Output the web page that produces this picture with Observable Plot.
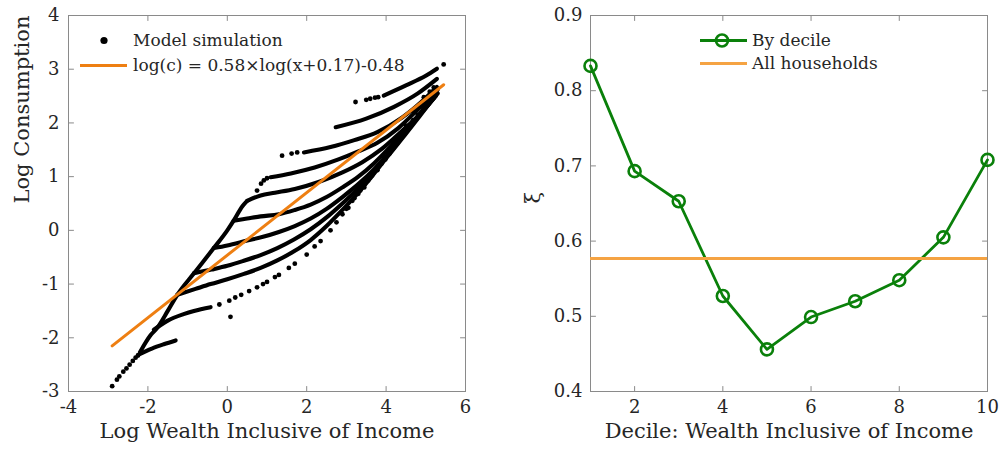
<!DOCTYPE html>
<html><head><meta charset="utf-8">
<script src="https://cdn.jsdelivr.net/npm/d3@7"></script>
<script src="https://cdn.jsdelivr.net/npm/@observablehq/plot@0.6"></script>
<style>
body{margin:0;background:#fff;}
#wrap{position:relative;width:1000px;height:450px;display:flex;overflow:hidden;}
#left,#right{position:relative;width:500px;height:450px;}
.legend{position:absolute;font-family:"DejaVu Serif",serif;color:#262626;font-size:17px;line-height:1;}
.legend .row{display:flex;align-items:center;white-space:nowrap;}
.legend svg{flex:none;}
</style></head><body>
<div id="wrap">
  <div id="left"></div>
  <div id="right"></div>
  <div class="legend" style="left:78px;top:27.5px;">
    <div class="row" style="height:25px"><svg width="55" height="25"><circle cx="26" cy="12.5" r="3.6" fill="#000"/></svg><span>Model simulation</span></div>
    <div class="row" style="height:25px"><svg width="55" height="25"><line x1="2" x2="49" y1="12.5" y2="12.5" stroke="#EE7F12" stroke-width="3"/></svg><span>log(c) = 0.58×log(x+0.17)-0.48</span></div>
  </div>
  <div class="legend" style="left:698px;top:28.5px;">
    <div class="row" style="height:23px"><svg width="54" height="23"><line x1="2" x2="49" y1="11.5" y2="11.5" stroke="#0A800A" stroke-width="2.8"/><circle cx="24" cy="11.5" r="6" fill="none" stroke="#0A800A" stroke-width="2.6"/></svg><span>By decile</span></div>
    <div class="row" style="height:23px"><svg width="54" height="23"><line x1="2" x2="49" y1="11.5" y2="11.5" stroke="#F5A343" stroke-width="3"/></svg><span>All households</span></div>
  </div>
</div>
<script>
// ---------- Left panel data ----------
const leftXTicks = [-4, -2, 0, 2, 4, 6];
const leftYTicks = [-3, -2, -1, 0, 1, 2, 3, 4];
// steep shared part of the policy curves
const envelope = [[-2.2,-2.27],[-1.93,-1.95],[-1.77,-1.82],[-1.5,-1.5],[-1.26,-1.2],[-0.84,-0.8],[-0.34,-0.33],[0.0,0.0],[0.16,0.18],[0.38,0.45],[0.5,0.55]];
const lowTail = [[-2.9,-2.9],[-2.78,-2.78],[-2.72,-2.72],[-2.62,-2.63],[-2.54,-2.57],[-2.46,-2.5],[-2.38,-2.43],[-2.31,-2.37],[-2.25,-2.33]];
const branch1 = [[-2.25,-2.32],[-1.9,-2.2],[-1.6,-2.12],[-1.3,-2.05]];
const branch2 = [[-1.85,-1.85],[-1.5,-1.68],[-1.1,-1.56],[-0.84,-1.5],[-0.42,-1.43]];
const branch2Dots = [[-0.2,-1.38],[0.05,-1.31],[0.2,-1.25],[0.35,-1.2],[0.55,-1.13],[0.75,-1.06],[0.9,-1.0],[1.0,-0.96],[1.2,-0.87],[1.3,-0.83],[1.55,-0.7],[1.7,-0.62],[2.0,-0.45],[2.2,-0.3],[2.35,-0.2],[2.6,0.0],[2.75,0.15],[2.9,0.3],[3.05,0.42],[3.2,0.6],[3.35,0.74],[3.45,0.85],[3.6,0.98],[3.7,1.1],[3.8,1.2],[3.94,1.36],[4.05,1.45],[4.2,1.6],[4.36,1.8],[4.5,1.95],[4.7,2.2],[4.85,2.35],[4.95,2.48],[5.1,2.58],[5.2,2.66]];
const strayDots = [[0.08,-1.61],[3.0,0.4],[3.15,0.55],[3.3,0.68],[3.45,0.8],[3.55,0.93],[3.65,1.02],[3.78,1.12],[3.88,1.24],[3.98,1.32],[4.08,1.42],[4.18,1.53],[4.28,1.62],[4.38,1.72],[4.48,1.83],[4.58,1.93],[4.68,2.05],[4.8,2.15],[4.92,2.3],[5.02,2.4]];
const branch3 = [[-1.26,-1.2],[-0.8,-1.09],[-0.42,-1.0],[0.0,-0.91],[0.42,-0.81],[0.84,-0.7],[1.26,-0.56],[1.68,-0.39],[2.1,-0.18],[2.5,0.08],[2.9,0.38],[3.3,0.7],[3.7,1.06],[4.1,1.44],[4.5,1.84],[4.85,2.17],[5.1,2.38]];
const branch4 = [[-0.84,-0.8],[-0.4,-0.73],[0.0,-0.66],[0.4,-0.57],[0.84,-0.46],[1.26,-0.33],[1.68,-0.17],[2.1,0.02],[2.5,0.24],[2.9,0.5],[3.3,0.78],[3.7,1.1],[4.1,1.43],[4.5,1.8],[4.85,2.13],[5.15,2.42]];
const branch5 = [[-0.34,-0.33],[0.0,-0.28],[0.5,-0.19],[0.9,-0.12],[1.3,-0.03],[1.7,0.08],[2.1,0.22],[2.5,0.4],[2.9,0.62],[3.3,0.86],[3.7,1.14],[4.1,1.46],[4.5,1.82],[4.85,2.16],[5.2,2.46]];
const branch6 = [[0.16,0.18],[0.5,0.22],[0.84,0.26],[1.3,0.3],[1.7,0.38],[2.1,0.48],[2.5,0.62],[2.9,0.8],[3.3,1.0],[3.7,1.25],[4.1,1.55],[4.5,1.87],[4.9,2.2],[5.25,2.5]];
const branch7 = [[0.5,0.55],[0.84,0.65],[1.2,0.7],[1.7,0.77],[2.3,0.9],[2.9,1.08],[3.4,1.27],[3.9,1.52],[4.4,1.85],[4.9,2.2],[5.3,2.55]];
const curveA = [[1.09,0.99],[1.6,1.06],[2.2,1.17],[2.8,1.32],[3.3,1.47],[3.78,1.63],[4.3,1.9],[4.8,2.25],[5.3,2.62]];
const curveADots = [[0.75,0.74],[0.85,0.87],[0.92,0.93],[1.0,0.97]];
const curveB = [[1.93,1.45],[2.6,1.55],[3.2,1.68],[3.78,1.83],[4.4,2.1],[4.9,2.4],[5.28,2.67]];
const curveBDots = [[1.38,1.39],[1.62,1.43],[1.76,1.45]];
const curveC = [[2.73,1.92],[3.5,2.08],[4.2,2.3],[4.8,2.55],[5.28,2.82]];
const curveD = [[3.94,2.51],[4.5,2.7],[5.0,2.88],[5.28,3.01]];
const curveDDots = [[3.23,2.39],[3.5,2.43],[3.6,2.45],[3.72,2.47],[3.8,2.48],[5.45,3.09]];
const fitX = [-2.9, 5.45];
const fitY = [-2.15, 2.71];

// ---------- Right panel data ----------
const decile = [1, 2, 3, 4, 5, 6, 7, 8, 9, 10];
const xi = [0.833, 0.693, 0.653, 0.527, 0.456, 0.499, 0.520, 0.548, 0.605, 0.708];
const allHouseholds = 0.577;
const rightXTicks = [2, 4, 6, 8, 10];
const rightYTicks = [0.4, 0.5, 0.6, 0.7, 0.8, 0.9];

const FONT = "DejaVu Serif";
const TEXT = "#262626";
const FRAME = "#8a8a8a";
const TICKFS = 18, LABELFS = 21;
const tickShape = {draw(ctx, l) { ctx.moveTo(0, 0); ctx.lineTo(0, -l); }};
function inwardTicks(xt, yt) {
  const o = {length: 5, anchor: "start", shape: tickShape, stroke: FRAME, strokeWidth: 1};
  return [
    Plot.vector(xt, {...o, x: d => d, frameAnchor: "bottom", rotate: 0}),
    Plot.vector(xt, {...o, x: d => d, frameAnchor: "top", rotate: 180}),
    Plot.vector(yt, {...o, y: d => d, frameAnchor: "left", rotate: 90}),
    Plot.vector(yt, {...o, y: d => d, frameAnchor: "right", rotate: -90})
  ];
}
function tickLabels(xt, yt, fmtX, fmtY, padY) {
  const t = {fontSize: TICKFS, fontFamily: FONT, fill: TEXT};
  return [
    Plot.text(xt, {...t, x: d => d, text: fmtX, frameAnchor: "bottom", lineAnchor: "top", dy: 9}),
    Plot.text(yt, {...t, y: d => d, text: fmtY, frameAnchor: "left", textAnchor: "end", dx: -padY})
  ];
}
const P = {x: d => d[0], y: d => d[1]};
const denseLine = (data) => Plot.line(data, {...P, stroke: "#000", strokeWidth: 4.1, curve: "monotone-x", strokeLinecap: "round"});
const sparse = (data) => Plot.dot(data, {...P, r: 2.4, fill: "#000"});

const left = Plot.plot({
  width: 500, height: 450,
  marginLeft: 68, marginRight: 35, marginTop: 15, marginBottom: 59,
  style: {fontFamily: FONT, fontSize: TICKFS + "px", color: TEXT, background: "transparent", overflow: "visible"},
  x: {domain: [-4, 6], axis: null},
  y: {domain: [-3, 4], axis: null},
  marks: [
    Plot.frame({stroke: FRAME}),
    ...inwardTicks(leftXTicks, leftYTicks),
    ...tickLabels(leftXTicks, leftYTicks, d => String(d), d => String(d), 9),
    Plot.text(["Log Wealth Inclusive of Income"], {text: d => d, frameAnchor: "bottom", dy: 46, fontSize: LABELFS, fontFamily: FONT, fill: TEXT}),
    Plot.text(["Log Consumption"], {text: d => d, frameAnchor: "left", rotate: -90, dx: -46, fontSize: LABELFS, fontFamily: FONT, fill: TEXT}),
    sparse(lowTail),
    denseLine(branch1),
    denseLine(envelope),
    denseLine(branch2),
    sparse(branch2Dots),
    sparse(strayDots),
    denseLine(branch3),
    denseLine(branch4),
    denseLine(branch5),
    denseLine(branch6),
    denseLine(branch7),
    denseLine(curveA), sparse(curveADots),
    denseLine(curveB), sparse(curveBDots),
    denseLine(curveC),
    denseLine(curveD), sparse(curveDDots),
    Plot.line(fitX.map((x, i) => [x, fitY[i]]), {...P, stroke: "#EE7F12", strokeWidth: 3})
  ]
});
document.getElementById("left").appendChild(left);

const GREEN = "#0A800A";
const deciles = decile.map((d, i) => ({d, v: xi[i]}));
const right = Plot.plot({
  width: 500, height: 450,
  marginLeft: 90, marginRight: 13, marginTop: 15, marginBottom: 59,
  style: {fontFamily: FONT, fontSize: TICKFS + "px", color: TEXT, background: "transparent", overflow: "visible"},
  x: {domain: [1, 10], axis: null},
  y: {domain: [0.4, 0.9], axis: null},
  marks: [
    Plot.frame({stroke: FRAME}),
    ...inwardTicks(rightXTicks, rightYTicks),
    ...tickLabels(rightXTicks, rightYTicks, d => String(d), d => d.toFixed(1), 8),
    Plot.text(["Decile: Wealth Inclusive of Income"], {text: d => d, frameAnchor: "bottom", dy: 46, fontSize: LABELFS, fontFamily: FONT, fill: TEXT}),
    Plot.text(["ξ"], {text: d => d, frameAnchor: "left", rotate: -90, dx: -57, fontSize: LABELFS, fontFamily: FONT, fill: TEXT}),
    Plot.line(deciles, {x: "d", y: "v", stroke: GREEN, strokeWidth: 2.8}),
    Plot.dot(deciles, {x: "d", y: "v", r: 6, stroke: GREEN, strokeWidth: 2.6, fill: "none"}),
    Plot.ruleY([allHouseholds], {stroke: "#F5A343", strokeWidth: 3})
  ]
});
document.getElementById("right").appendChild(right);
</script>
</body></html>
